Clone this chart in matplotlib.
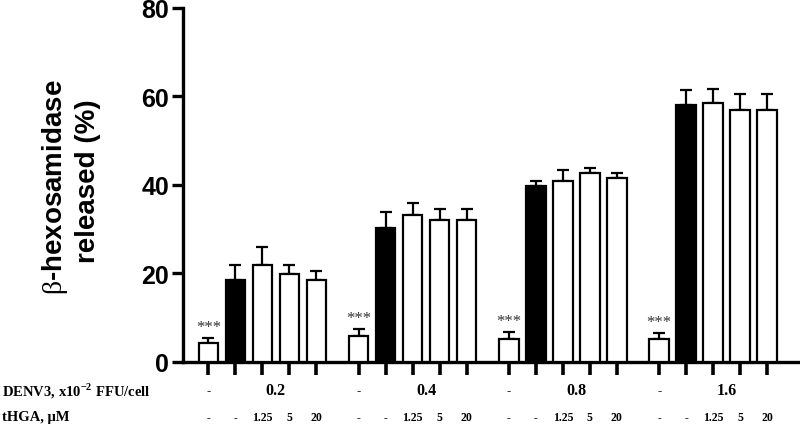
import matplotlib
matplotlib.use("Agg")
import matplotlib.pyplot as plt
import numpy as np

plt.rcParams["mathtext.fontset"] = "custom"
plt.rcParams["mathtext.rm"] = "Liberation Serif"
plt.rcParams["mathtext.bf"] = "Liberation Serif:bold"

groups = ["0.2", "0.4", "0.8", "1.6"]
thga_labels = ["-", "-", "1.25", "5", "20"]
# per group: [control, DENV only, tHGA 1.25, 5, 20]
means = [
    [4.3, 18.5, 22.0, 19.9, 18.5],
    [5.8, 30.2, 33.3, 32.0, 32.0],
    [5.2, 39.8, 40.8, 42.7, 41.5],
    [5.2, 58.0, 58.5, 57.0, 57.0],
]
errs = [
    [1.0, 3.4, 4.0, 2.1, 2.1],
    [1.6, 3.8, 2.7, 2.5, 2.5],
    [1.5, 1.0, 2.6, 1.1, 1.2],
    [1.3, 3.5, 3.1, 3.6, 3.6],
]
sig = "***"

fig = plt.figure(figsize=(8, 4.27), dpi=100)
ax = fig.add_axes([0.229, 0.150, 0.771, 0.829])

gap = 5.57
width = 0.72
xs_all = []
for g in range(len(groups)):
    xs = g * gap + np.arange(5)
    xs_all.extend(xs)
    colors = ["white", "black", "white", "white", "white"]
    ax.bar(xs, means[g], width=width, color=colors, edgecolor="black", linewidth=1.6, zorder=3)
    ax.errorbar(xs, means[g], yerr=[np.zeros(5), errs[g]], fmt="none", ecolor="black",
                elinewidth=1.6, capsize=4.5, capthick=1.6, zorder=2)
    ax.text(xs[0], means[g][0] + errs[g][0] + 0.8, sig, ha="center", va="bottom",
            fontsize=12, family="Liberation Serif", color="#333333")

ax.set_xlim(-0.93, 21.93)
ax.set_ylim(0, 80)
ax.set_yticks([0, 20, 40, 60, 80])
ax.set_xticks(xs_all)
ax.set_xticklabels([])
for s in ["top", "right"]:
    ax.spines[s].set_visible(False)
for s in ["left", "bottom"]:
    ax.spines[s].set_linewidth(2.4)
ax.tick_params(axis="y", length=8, width=2.4, direction="out", pad=2,
               labelsize=18)
ax.tick_params(axis="x", length=9, width=2.6, direction="out")
for lab in ax.get_yticklabels():
    lab.set_fontweight("bold")
    lab.set_family("Liberation Sans")

fig.text(55 / 800, 1 - 187 / 427, r"$\mathrm{\beta}$-hexosamidase", rotation=90, ha="center",
         va="center", fontsize=20, fontweight="bold", family="Liberation Sans")
fig.text(88 / 800, 1 - 181 / 427, "released (%)", rotation=90, ha="center",
         va="center", fontsize=20, fontweight="bold", family="Liberation Sans")

# table rows
row1_y = 391
row2_y = 418
fig.text(0.002, 1 - row1_y / 427, r"DENV3, x10$^{\mathbf{-2}}$ FFU/cell", ha="left", va="center",
         fontsize=10.5, fontweight="bold", family="Liberation Serif")
fig.text(0.002, 1 - row2_y / 427, "tHGA, μM", ha="left", va="center",
         fontsize=10.5, fontweight="bold", family="Liberation Serif")
trans = ax.get_xaxis_transform()
for g, name in enumerate(groups):
    xs = g * gap + np.arange(5)
    y1 = (1 - row1_y / 427 - 0.150) / 0.829
    y2 = (1 - row2_y / 427 - 0.150) / 0.829
    ax.text(xs[0], y1, "-", transform=trans, ha="center", va="center", fontsize=9,
            fontweight="bold", family="Liberation Serif", clip_on=False)
    ax.text(xs[1:].mean(), y1, name, transform=trans, ha="center", va="center", fontsize=11.5,
            fontweight="bold", family="Liberation Serif", clip_on=False)
    for i, lab in enumerate(thga_labels):
        ax.text(xs[i], y2, lab, transform=trans, ha="center", va="center", fontsize=8.5,
                fontweight="bold", family="Liberation Serif", clip_on=False)

fig.savefig("out.png", dpi=100)
